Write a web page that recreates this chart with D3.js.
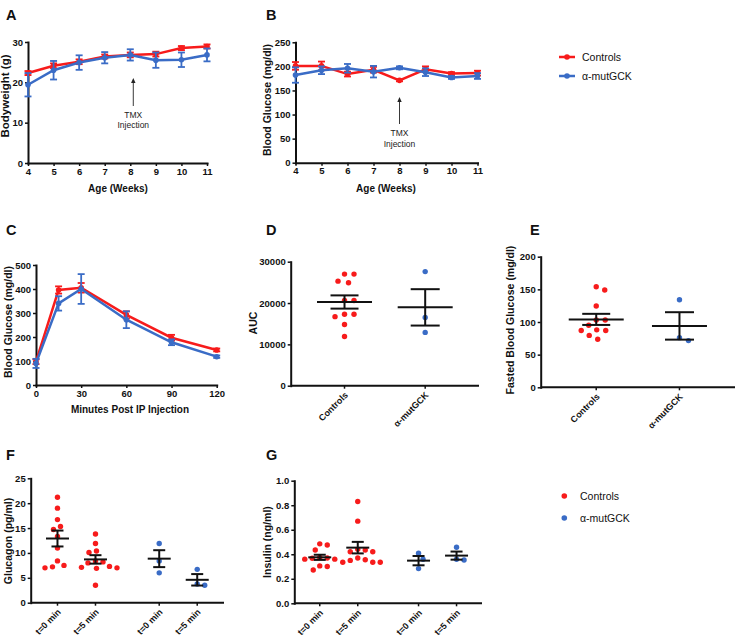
<!DOCTYPE html>
<html><head><meta charset="utf-8">
<script src="https://cdn.jsdelivr.net/npm/d3@7"></script>
<style>body{margin:0;background:#fff}svg{display:block}</style>
</head><body><svg id="c" width="740" height="639"></svg>
<script>
const FONT='"Liberation Sans", Arial, sans-serif';
const RED="#f71b1b", BLUE="#3a6cc6", INK="#111";

// ---- Panel A: bodyweight ----
const weeks=[4,5,6,7,8,9,10,11];
const bwCtrl=[22.3,24.1,25.1,26.4,26.8,27.0,28.5,28.9];
const bwCtrlErr=[0.5,0.6,0.6,0.5,0.6,0.6,0.5,0.5];
const bwMut=[19.4,23.0,24.9,26.1,26.8,25.5,25.6,26.8];
const bwMutErr=[2.9,2.3,1.8,1.4,1.4,1.9,1.8,1.6];
const bwTicks=[0,10,20,30];
// ---- Panel B: blood glucose ----
const bgCtrl=[201,201,184,193,171,194,185,186];
const bgCtrlErr=[8,9,5,6,2,6,3,5];
const bgMut=[182,192,196,189,197,188,177,180];
const bgMutErr=[16,8,9,12,3,8,3,6];
const bgTicks=[0,50,100,150,200,250];
// ---- Panel C: IPGTT ----
const ipMinutes=[0,15,30,60,90,120];
const ipXTicks=[0,30,60,90,120];
const ipCtrl=[97,396,405,292,197,146];
const ipCtrlErr=[10,15,20,15,12,6];
const ipMut=[90,340,400,272,178,118];
const ipMutErr=[19,30,62,35,12,5];
const ipTicks=[0,100,200,300,400,500];
// ---- Panel D: AUC ----
const groups=["Controls","α-mutGCK"];
const aucCtrl=[27000,27000,25300,24900,20600,20600,17300,17300,16700,14800,11900];
const aucMut=[27600,16500,12900];
const aucMean=[20250,18950];
const aucSem=[1600,4400];
const aucTicks=[0,10000,20000,30000];
// ---- Panel E: fasted blood glucose ----
const fbgCtrl=[154,149,124.5,103,103,95,87,87,88,79.5,73.5];
const fbgMut=[134,76,71.5];
const fbgMean=[104,94];
const fbgSem=[8.5,21];
const fbgTicks=[0,50,100,150,200];
// ---- Panel F: glucagon ----
const times=["t=0 min","t=5 min"];
const glucCtrl0=[21.2,19.0,16.7,15.3,14.7,13.3,11.0,8.4,7.5,7.2,7.0];
const glucCtrl5=[13.8,11.9,10.4,10.1,8.4,8.2,8.0,7.3,7.1,7.0,6.9,3.5];
const glucMut0=[11.9,8.4,6.0];
const glucMut5=[6.7,3.75,3.5];
const glucMean=[12.9,8.7,8.85,4.6];
const glucSem=[1.6,0.85,1.7,1.15];
const glucTicks=[0,5,10,15,20,25];
// ---- Panel G: insulin ----
const insCtrl0=[0.485,0.475,0.435,0.375,0.37,0.367,0.36,0.36,0.305,0.30,0.272];
const insCtrl5=[0.83,0.67,0.44,0.435,0.42,0.42,0.37,0.355,0.35,0.335,0.335,0.335];
const insMut0=[0.408,0.359,0.283];
const insMut5=[0.457,0.359,0.353];
const insMean=[0.375,0.454,0.348,0.389];
const insSem=[0.021,0.047,0.038,0.033];
const insTicks=[0,0.2,0.4,0.6,0.8,1.0];

const svg=d3.select("#c");

function styleAxis(g,fs){
  g.attr("font-family",null).attr("font-size",null);
  g.select(".domain").attr("stroke",INK).attr("stroke-width",2).attr("stroke-linecap","square");
  g.selectAll(".tick line").attr("stroke",INK).attr("stroke-width",1.5);
  g.selectAll(".tick text").attr("fill",INK).style("font-size",(fs||9.5)+"px")
    .style("font-weight","bold").style("font-family",FONT);
}
function txt(x,y,s,o){
  o=o||{};
  const t=svg.append("text").attr("x",x).attr("y",y).text(s)
    .style("font-family",FONT).style("font-size",(o.size||10)+"px")
    .style("font-weight",o.bold===false?"normal":"bold").attr("fill",o.fill||INK)
    .attr("text-anchor",o.anchor||"start");
  if(o.rot) t.attr("transform",`rotate(${o.rot},${x},${y})`);
  return t;
}
function yAxis(y,x0,ticks,fmt){
  const g=svg.append("g").attr("transform",`translate(${x0},0)`)
    .call(d3.axisLeft(y).tickValues(ticks).tickSize(3).tickSizeOuter(0).tickPadding(2).tickFormat(fmt||d3.format("d")));
  styleAxis(g);
}
function errBar(g,cx,y1,y2,w,color,sw){
  g.append("line").attr("x1",cx).attr("x2",cx).attr("y1",y1).attr("y2",y2).attr("stroke",color).attr("stroke-width",sw);
  [y1,y2].forEach(yy=>g.append("line").attr("x1",cx-w/2).attr("x2",cx+w/2).attr("y1",yy).attr("y2",yy).attr("stroke",color).attr("stroke-width",sw));
}

function linePanel(o){
  const x=d3.scaleLinear().domain(o.xDomain).range(o.xRange);
  const y=d3.scaleLinear().domain(o.yDomain).range(o.yRange);
  yAxis(y,o.xRange[0],o.yTicks);
  const gx=svg.append("g").attr("transform",`translate(0,${o.yRange[0]})`)
    .call(d3.axisBottom(x).tickValues(o.xTicks).tickSize(3).tickSizeOuter(0).tickPadding(2).tickFormat(d3.format("d")));
  styleAxis(gx);
  o.series.forEach(s=>{
    const pts=o.xs.map((xv,i)=>({x:xv,v:s.v[i],e:s.e[i]}));
    const g=svg.append("g");
    g.append("path").datum(pts).attr("d",d3.line().x(d=>x(d.x)).y(d=>y(d.v)))
      .attr("fill","none").attr("stroke",s.color).attr("stroke-width",2.5);
    pts.forEach(d=>errBar(g,x(d.x),y(d.v-d.e),y(d.v+d.e),7,s.color,1.8));
    g.selectAll("circle").data(pts).join("circle").attr("cx",d=>x(d.x)).attr("cy",d=>y(d.v))
      .attr("r",2.8).attr("fill",s.color);
  });
  return {x,y};
}

function arrowNote(x,yTip,yBase,l1,l2,y1,y2){
  svg.append("line").attr("x1",x).attr("x2",x).attr("y1",yTip+4).attr("y2",yBase).attr("stroke","#222").attr("stroke-width",0.9);
  svg.append("path").attr("d",`M${x},${yTip}L${x-2.2},${yTip+5}L${x+2.2},${yTip+5}Z`).attr("fill","#222");
  txt(x,y1,l1,{size:8.5,bold:false,anchor:"middle",fill:"#222"});
  txt(x,y2,l2,{size:8.5,bold:false,anchor:"middle",fill:"#222"});
}

function swarm(values,y,cx,D){
  const pts=values.map(v=>({v,py:y(v)})).sort((a,b)=>a.py-b.py);
  const placed=[];
  pts.forEach(p=>{
    for(let k=0;k<400;k++){
      const off=(k%2?1:-1)*Math.ceil(k/2)*0.5;
      const ok=placed.every(q=>{const dx=q.px-(cx+off),dy=q.py-p.py;return dx*dx+dy*dy>=D*D;});
      if(ok){p.px=cx+off;break;}
    }
    placed.push(p);
  });
  return placed;
}

function scatterGroup(y,cx,vals,color,mean,sem,mw,cw,D){
  const g=svg.append("g");
  swarm(vals,y,cx,D).forEach(p=>g.append("circle").attr("cx",p.px).attr("cy",p.py).attr("r",2.7).attr("fill",color));
  g.append("line").attr("x1",cx-mw/2).attr("x2",cx+mw/2).attr("y1",y(mean)).attr("y2",y(mean)).attr("stroke",INK).attr("stroke-width",2);
  errBar(g,cx,y(mean-sem),y(mean+sem),cw,INK,2);
}

function catAxis(positions,labels,x0,x1,y0){
  svg.append("line").attr("x1",x0).attr("x2",x1).attr("y1",y0).attr("y2",y0).attr("stroke",INK).attr("stroke-width",2);
  positions.forEach((p,i)=>{
    svg.append("line").attr("x1",p).attr("x2",p).attr("y1",y0).attr("y2",y0+3).attr("stroke",INK).attr("stroke-width",1.5);
    svg.append("text").text(labels[i]).attr("text-anchor","end")
      .attr("transform",`translate(${p+4},${y0+10}) rotate(-45)`)
      .style("font-family",FONT).style("font-size","9px").style("font-weight","bold").attr("fill",INK);
  });
}

// ===== A =====
const A=linePanel({xDomain:[4,11],xRange:[28,207],yDomain:[0,30],yRange:[163,42],xTicks:weeks,yTicks:bwTicks,xs:weeks,
  series:[{v:bwCtrl,e:bwCtrlErr,color:RED},{v:bwMut,e:bwMutErr,color:BLUE}]});
arrowNote(A.x(8)+3,78,106,"TMX","Injection",118,128);
txt(6,20,"A",{size:14.5});
txt(9,96,"Bodyweight (g)",{size:11.5,anchor:"middle",rot:-90});
txt(118,192,"Age (Weeks)",{size:10,anchor:"middle"});

// ===== B =====
const B=linePanel({xDomain:[4,11],xRange:[295.5,477.5],yDomain:[0,250],yRange:[162.7,42.3],xTicks:weeks,yTicks:bgTicks,xs:weeks,
  series:[{v:bgCtrl,e:bgCtrlErr,color:RED},{v:bgMut,e:bgMutErr,color:BLUE}]});
arrowNote(B.x(8),97,124,"TMX","Injection",136,147);
txt(266,20,"B",{size:14.5});
txt(271,100,"Blood Glucose (mg/dl)",{size:10.5,anchor:"middle",rot:-90});
txt(386,192,"Age (Weeks)",{size:10,anchor:"middle"});

// legend (lines)
[[RED,"Controls",57],[BLUE,"α-mutGCK",76]].forEach(([c,l,yy])=>{
  svg.append("line").attr("x1",559).attr("x2",575).attr("y1",yy).attr("y2",yy).attr("stroke",c).attr("stroke-width",2.5);
  svg.append("circle").attr("cx",567).attr("cy",yy).attr("r",2.8).attr("fill",c);
  txt(582,yy+3.8,l,{size:10.5,bold:false});
});

// ===== C =====
linePanel({xDomain:[0,120],xRange:[36,216.7],yDomain:[0,500],yRange:[385,265],xTicks:ipXTicks,yTicks:ipTicks,xs:ipMinutes,
  series:[{v:ipCtrl,e:ipCtrlErr,color:RED},{v:ipMut,e:ipMutErr,color:BLUE}]});
txt(6,235,"C",{size:14.5});
txt(12,322,"Blood Glucose (mg/dl)",{size:10.5,anchor:"middle",rot:-90});
txt(130,413,"Minutes Post IP Injection",{size:10,anchor:"middle"});

// ===== D =====
{
  const y=d3.scaleLinear().domain([0,30000]).range([385.7,261.7]);
  const x=d3.scalePoint().domain(groups).range([290.7,479]).padding(0.667);
  yAxis(y,290.7,aucTicks);
  catAxis(groups.map(x),groups,290.7,479,385.7);
  scatterGroup(y,x(groups[0]),aucCtrl,RED,aucMean[0],aucSem[0],55,28,9.5);
  scatterGroup(y,x(groups[1]),aucMut,BLUE,aucMean[1],aucSem[1],55,29,9.5);
  txt(266,235,"D",{size:14.5});
  txt(257,323,"AUC",{size:10.5,anchor:"middle",rot:-90});
}
// ===== E =====
{
  const y=d3.scaleLinear().domain([0,200]).range([387.3,256.7]);
  const x=d3.scalePoint().domain(groups).range([540.7,735]).padding(0.667);
  yAxis(y,540.7,fbgTicks);
  catAxis(groups.map(x),groups,540.7,735,387.3);
  scatterGroup(y,x(groups[0]),fbgCtrl,RED,fbgMean[0],fbgSem[0],55,28,9);
  scatterGroup(y,x(groups[1]),fbgMut,BLUE,fbgMean[1],fbgSem[1],55,29,9);
  txt(530,235,"E",{size:14.5});
  txt(514,320,"Fasted Blood Glucose (mg/dl)",{size:10.5,anchor:"middle",rot:-90});
}
// ===== F & G =====
function timePanel(o){
  const y=d3.scaleLinear().domain(o.yDomain).range(o.yRange);
  const outer=d3.scalePoint().domain(groups).range([o.x0,o.x1]).padding(0.45);
  const inner=d3.scalePoint().domain(times).range([-19,19]);
  yAxis(y,o.x0,o.yTicks,o.fmt);
  const pos=[],labs=[];
  groups.forEach(gname=>times.forEach(t=>{pos.push(outer(gname)+inner(t));labs.push(t);}));
  catAxis(pos,labs,o.x0,o.x1,o.yRange[0]);
  const cols=[RED,RED,BLUE,BLUE];
  o.sets.forEach((vals,i)=>scatterGroup(y,pos[i],vals,cols[i],o.mean[i],o.sem[i],23,12,7.5));
}
timePanel({yDomain:[0,25],yRange:[602.7,478.3],x0:30.7,x1:224,yTicks:glucTicks,
  sets:[glucCtrl0,glucCtrl5,glucMut0,glucMut5],mean:glucMean,sem:glucSem});
txt(6,460,"F",{size:14.5});
txt(12,541,"Glucagon (pg/ml)",{size:10.5,anchor:"middle",rot:-90});

timePanel({yDomain:[0,1],yRange:[603.3,480.7],x0:294.3,x1:482,yTicks:insTicks,fmt:d3.format(".1f"),
  sets:[insCtrl0,insCtrl5,insMut0,insMut5],mean:insMean,sem:insSem});
txt(266,460,"G",{size:14.5});
txt(271,542,"Insulin (ng/ml)",{size:10.5,anchor:"middle",rot:-90});

// legend (dots)
[[RED,"Controls",496],[BLUE,"α-mutGCK",518]].forEach(([c,l,yy])=>{
  svg.append("circle").attr("cx",564.3).attr("cy",yy).attr("r",2.8).attr("fill",c);
  txt(580,yy+3.8,l,{size:10.5,bold:false});
});
</script></body></html>
